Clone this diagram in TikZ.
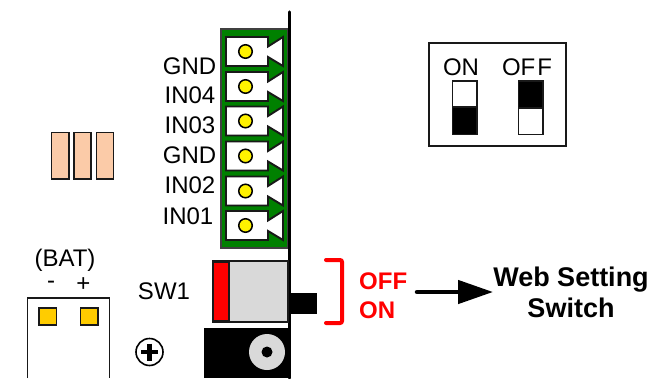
\documentclass[tikz,border=0pt]{standalone}
\usepackage{fontspec}
\usepackage{xcolor}
\usetikzlibrary{arrows.meta}
\setmainfont{Liberation Sans}
\definecolor{boardgreen}{HTML}{008000}
\definecolor{padorange}{HTML}{FBCBA8}
\definecolor{padyellow}{HTML}{FFCC00}
\definecolor{knobgray}{HTML}{D9D9D9}

\begin{document}
\begin{tikzpicture}[x=1pt, y=-1pt, >=stealth, font=\fontsize{24}{27}\selectfont]
    \tikzstyle{pinlabel}=[inner sep=0pt, anchor=east]
    \tikzstyle{part}=[draw=black!90, line width=1.9pt]
    \tikzstyle{fuse}=[part, fill=padorange]
    \tikzstyle{batpad}=[part, fill=padyellow]
    \tikzstyle{redlabel}=[inner sep=0pt, anchor=west, text=red, font=\fontsize{24}{27}\selectfont\bfseries]
    \useasboundingbox (0,0) rectangle (654,378);

    % terminal block
    \fill[boardgreen, draw=black!75, line width=1.5pt] (221,29) rectangle (288,248);
    \foreach \i/\ty in {1/37, 2/72, 3/106.5, 4/141.5, 5/176.5, 6/211} {
      \draw[part, fill=white] (226,\ty) -- (268,\ty) -- (268,\ty+9.5) -- (283,\ty)
        -- (283,\ty+29) -- (268,\ty+20) -- (268,\ty+29) -- (226,\ty+29) -- cycle;
      \node[draw=black, line width=1.5pt, fill=yellow, circle, minimum size=13.5pt, inner sep=0pt]
        (pin\i) at (245.5,\ty+14.5) {};
    }
    \draw[line width=3.2pt, line cap=round] (289.5,12) -- (289.5,378);

    \node[pinlabel] (gndtop) at (216.5,66) {GND};
    \node[pinlabel] (infour) at (215.5,95.5) {IN04};
    \node[pinlabel] (inthree) at (215.5,125) {IN03};
    \node[pinlabel] (gndlow) at (216.5,155.5) {GND};
    \node[pinlabel] (intwo) at (215.5,185.5) {IN02};
    \node[pinlabel] (inone) at (213.5,216) {IN01};

    % fuses
    \draw[fuse] (51.5,132.5) rectangle (69,179);
    \draw[fuse] (74,132.5) rectangle (91,179);
    \draw[fuse] (96.5,132.5) rectangle (113.5,179);

    % battery connector
    \node[inner sep=0pt] (batname) at (65,260) {(BAT)};
    \node[inner sep=0pt] (batminus) at (51,285) {-};
    \node[inner sep=0pt] (batplus) at (83.5,285) {+};
    \draw[part] (27.5,378) -- (27.5,298) -- (109.5,298) -- (109.5,378);
    \draw[batpad] (39,308) rectangle (56.5,325);
    \draw[batpad] (80.5,308) rectangle (98,325);

    % slide switch
    \node[inner sep=0pt] (swname) at (164,291) {SW1};
    \fill (288,293) rectangle (317,314);
    \draw[part, fill=knobgray] (212.5,261) rectangle (288,322);
    \draw[part, fill=red] (213,262) rectangle (229,321);
    \fill (204,328) rectangle (290,378);
    \node[circle, fill=knobgray, minimum size=36pt, inner sep=0pt] (mounthole) at (267,352) {};
    \node[circle, fill=black, minimum size=11pt, inner sep=0pt] (mountbore) at (267,352) {};

    % screw mark
    \node[circle, draw=black, line width=1.6pt, minimum size=27pt, inner sep=0pt] (screw) at (149.5,352) {};
    \draw[line width=4.5pt] (141,352) -- (158,352);
    \draw[line width=4.5pt] (149.5,343.5) -- (149.5,360.5);

    % dip switch legend
    \draw[part] (429,43) rectangle (566,146);
    \node[inner sep=0pt] (onname) at (461,67) {ON};
    \node[inner sep=0pt] (offname) at (527,67) {OF\kern2pt F};
    \draw[part, fill=white] (452.5,81) rectangle (477,107);
    \draw[part, fill=black] (452.5,107) rectangle (477,134.5);
    \draw[part, fill=black] (518.5,81) rectangle (543,108);
    \draw[part, fill=white] (518.5,108) rectangle (543,134.5);

    % red bracket and labels
    \draw[red, line width=4pt, line cap=round, rounded corners=2pt] (326,260) -- (342,260) -- (342,323) -- (326,323);
    \node[redlabel] (offstate) at (359,281) {OFF};
    \node[redlabel] (onstate) at (359,310) {ON};

    \node[inner sep=0pt, align=center, font=\fontsize{27}{31}\selectfont\bfseries] (web) at (571,292) {Web Setting\\Switch};
    \coordinate (webstart) at (417,292);
    \draw[line width=4.5pt, line cap=round, -{Triangle[length=35pt, width=23pt]}] (webstart) -- (web.west);
  \end{tikzpicture}
\end{document}
